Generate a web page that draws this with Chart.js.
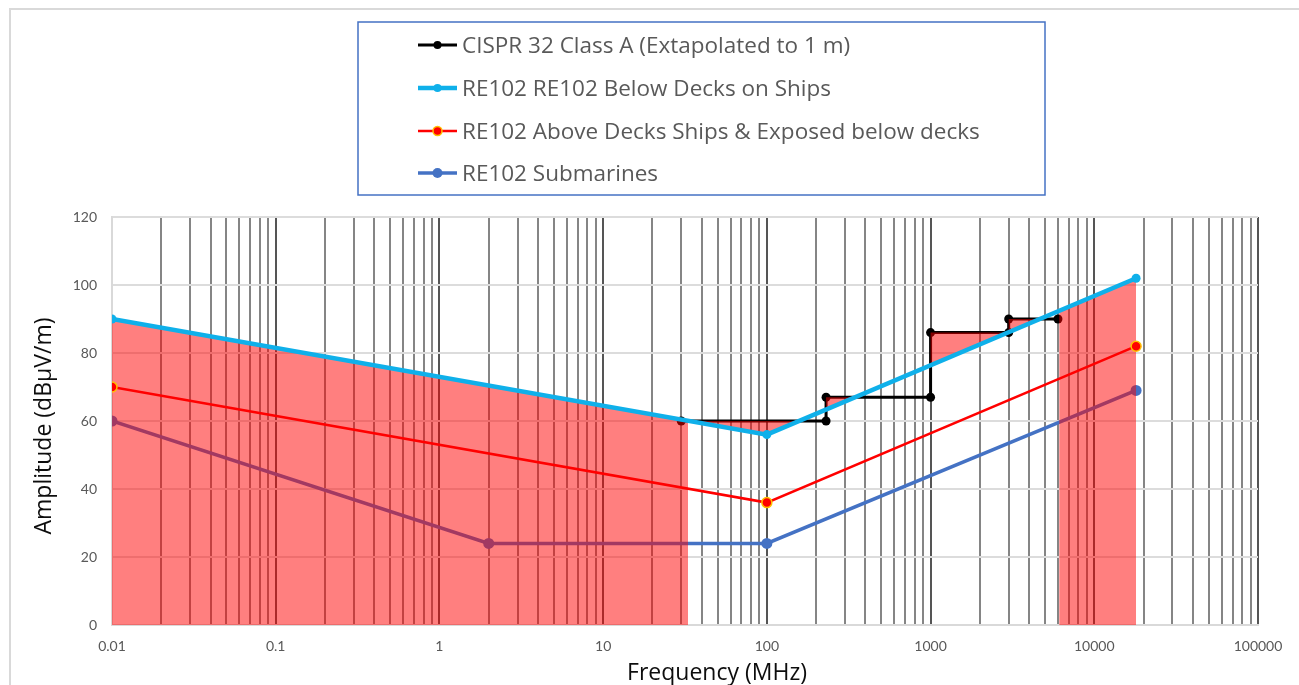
<!DOCTYPE html>
<html>
<head>
<meta charset="utf-8">
<title>Radiated emission limits</title>
<script src="https://cdn.jsdelivr.net/npm/chart.js@4.4.1/dist/chart.umd.min.js"></script>
<style>
  html, body { margin: 0; padding: 0; background: #ffffff; }
  #wrap { width: 1299px; height: 685px; position: relative; overflow: hidden; }
  canvas { display: block; }
</style>
</head>
<body>
<div id="wrap"><canvas id="chart" width="1299" height="685"></canvas></div>
<script>
// ---- data -------------------------------------------------------------
const cisprLabel = 'CISPR 32 Class A (Extapolated to 1 m)';
const cisprFreq  = [30, 230, 230, 1000, 1000, 3000, 3000, 6000];
const cisprLevel = [60, 60, 67, 67, 86, 86, 90, 90];

const belowDecksLabel = 'RE102 RE102 Below Decks on Ships';
const belowDecksFreq  = [0.01, 100, 18000];
const belowDecksLevel = [90, 56, 102];

const aboveDecksLabel = 'RE102 Above Decks Ships & Exposed below decks';
const aboveDecksFreq  = [0.01, 100, 18000];
const aboveDecksLevel = [70, 36, 82];

const submarineLabel = 'RE102 Submarines';
const submarineFreq  = [0.01, 2, 100, 18000];
const submarineLevel = [60, 24, 24, 69];

// frequency spans shaded under the below-decks limit
const shadedRanges = [[0.01, 33], [6100, 18000]];

const xDecades    = [0.01, 0.1, 1, 10, 100, 1000, 10000, 100000];
const xTickLabels = ['0.01', '0.1', '1', '10', '100', '1000', '10000', '100000'];
const yTickValues = [0, 20, 40, 60, 80, 100, 120];

const xTitle = 'Frequency (MHz)';
const yTitle = 'Amplitude (dB\u03BCV/m)';

// ---- helpers ----------------------------------------------------------
const TICK_FONT = 'Lato, "Open Sans", sans-serif';
const TEXT_FONT = '"Open Sans", Lato, sans-serif';
const SHADE = 'rgba(255, 0, 0, 0.5)';

function toPoints(freqs, levels) {
  return freqs.map((f, i) => ({ x: f, y: levels[i] }));
}

// level of a piecewise (log-frequency) linear limit at frequency f
function levelAt(freqs, levels, f) {
  for (let i = 0; i < freqs.length - 1; i++) {
    if (f >= freqs[i] && f <= freqs[i + 1]) {
      const t = (Math.log10(f) - Math.log10(freqs[i])) /
                (Math.log10(freqs[i + 1]) - Math.log10(freqs[i]));
      return levels[i] + t * (levels[i + 1] - levels[i]);
    }
  }
  return levels[levels.length - 1];
}

function bandPoints(range) {
  return range.map(f => ({ x: f, y: levelAt(belowDecksFreq, belowDecksLevel, f) }));
}

// ---- datasets ---------------------------------------------------------
const belowDecks = {
  label: belowDecksLabel,
  data: toPoints(belowDecksFreq, belowDecksLevel),
  borderColor: '#0fb0ea', backgroundColor: '#0fb0ea',
  borderWidth: 4.5, pointRadius: 4.5, pointBackgroundColor: '#0fb0ea',
  pointBorderColor: '#0fb0ea', pointBorderWidth: 0,
  fill: false, order: 0, tension: 0, legendRow: 1
};
const aboveDecks = {
  label: aboveDecksLabel,
  data: toPoints(aboveDecksFreq, aboveDecksLevel),
  borderColor: '#ff0000', backgroundColor: '#ff0000',
  borderWidth: 2.5, pointRadius: 5, pointBackgroundColor: '#ff0000',
  pointBorderColor: '#ffc000', pointBorderWidth: 1.5,
  fill: false, order: 1, tension: 0, legendRow: 2
};
const cisprShade = {
  label: '',
  data: toPoints(cisprFreq, cisprLevel),
  borderColor: 'rgba(0,0,0,0)', borderWidth: 0, pointRadius: 0,
  fill: { target: 0, above: SHADE, below: 'rgba(0,0,0,0)' },
  order: 2, tension: 0
};
const bands = shadedRanges.map(r => ({
  label: '',
  data: bandPoints(r),
  borderColor: 'rgba(0,0,0,0)', borderWidth: 0, pointRadius: 0,
  backgroundColor: SHADE, fill: 'origin', order: 2, tension: 0
}));
const cispr = {
  label: cisprLabel,
  data: toPoints(cisprFreq, cisprLevel),
  borderColor: '#000000', backgroundColor: '#000000',
  borderWidth: 3, pointRadius: 4.5, pointBackgroundColor: '#000000',
  pointBorderColor: '#000000', pointBorderWidth: 0,
  fill: false, order: 3, tension: 0, legendRow: 0
};
const submarine = {
  label: submarineLabel,
  data: toPoints(submarineFreq, submarineLevel),
  borderColor: '#4472c4', backgroundColor: '#4472c4',
  borderWidth: 3.5, pointRadius: 5.5, pointBackgroundColor: '#4472c4',
  pointBorderColor: '#4472c4', pointBorderWidth: 0,
  fill: false, order: 4, tension: 0, legendRow: 3
};

// ---- frame, legend box and axis titles ------------------------------
const decorations = {
  id: 'decorations',
  afterDraw(chart) {
    const ctx = chart.ctx;
    const area = chart.chartArea;
    ctx.save();

    // outer chart frame
    ctx.strokeStyle = '#d9d9d9';
    ctx.lineWidth = 2;
    ctx.strokeRect(10, 9, 1400, 1000);

    // legend box
    ctx.strokeStyle = '#4472c4';
    ctx.lineWidth = 1.5;
    ctx.strokeRect(358, 22, 687, 173);

    const rows = chart.data.datasets
      .filter(d => d.legendRow !== undefined)
      .sort((a, b) => a.legendRow - b.legendRow);
    const rowY = [45, 88, 131, 173];
    ctx.font = '22.5px ' + TEXT_FONT;
    ctx.textBaseline = 'middle';
    ctx.textAlign = 'left';
    rows.forEach((d, i) => {
      const y = rowY[i];
      ctx.strokeStyle = d.borderColor;
      ctx.lineWidth = d.borderWidth;
      ctx.beginPath();
      ctx.moveTo(418, y);
      ctx.lineTo(457, y);
      ctx.stroke();
      ctx.beginPath();
      ctx.arc(437.5, y, d.pointRadius - 0.5, 0, Math.PI * 2);
      ctx.fillStyle = d.pointBackgroundColor;
      ctx.fill();
      if (d.pointBorderWidth) {
        ctx.strokeStyle = d.pointBorderColor;
        ctx.lineWidth = d.pointBorderWidth;
        ctx.stroke();
      }
      ctx.fillStyle = '#595959';
      ctx.fillText(d.label, 462, y + 1.5);
    });

    // axis titles
    ctx.fillStyle = '#0d0d0d';
    ctx.font = '23px ' + TEXT_FONT;
    ctx.textAlign = 'center';
    ctx.textBaseline = 'middle';
    ctx.fillText(xTitle, 717, 673);
    ctx.translate(44, (area.top + area.bottom) / 2 + 5);
    ctx.rotate(-Math.PI / 2);
    ctx.fillText(yTitle, 0, 0);
    ctx.restore();
  }
};

// ---- chart ------------------------------------------------------------
new Chart(document.getElementById('chart'), {
  type: 'line',
  data: { datasets: [belowDecks, aboveDecks, cisprShade, ...bands, cispr, submarine] },
  options: {
    responsive: false,
    animation: false,
    devicePixelRatio: 1,
    layout: { padding: { left: 10, right: 41, top: 217, bottom: 0 } },
    plugins: {
      legend: { display: false },
      tooltip: { enabled: false },
      filler: { propagate: false }
    },
    scales: {
      x: {
        type: 'logarithmic',
        min: xDecades[0],
        max: xDecades[xDecades.length - 1],
        afterBuildTicks(scale) {
          const ticks = [];
          xDecades.forEach((d, i) => {
            if (i === xDecades.length - 1) { ticks.push({ value: d }); return; }
            for (let m = 1; m <= 9; m++) ticks.push({ value: +(d * m).toPrecision(6) });
          });
          scale.ticks = ticks;
        },
        afterFit(scale) { scale.height = 60; },
        ticks: {
          autoSkip: false, maxRotation: 0, minRotation: 0, padding: 13,
          color: '#595959', font: { family: TICK_FONT, size: 14 },
          callback(value) {
            const i = xDecades.indexOf(value);
            return i >= 0 ? xTickLabels[i] : '';
          }
        },
        grid: {
          drawTicks: false,
          color(ctx) {
            const v = ctx.tick ? ctx.tick.value : 0;
            if (v === xDecades[0]) return '#d9d9d9';
            return xDecades.includes(v) ? '#555555' : '#858585';
          },
          lineWidth: 2
        },
        border: { display: true, color: '#d9d9d9', width: 2 }
      },
      y: {
        type: 'linear',
        min: yTickValues[0],
        max: yTickValues[yTickValues.length - 1],
        afterBuildTicks(scale) { scale.ticks = yTickValues.map(v => ({ value: v })); },
        afterFit(scale) { scale.width = 102; },
        ticks: {
          padding: 15, color: '#595959', font: { family: TICK_FONT, size: 14 }
        },
        grid: { drawTicks: false, color: '#dcdcdc', lineWidth: 2 },
        border: { display: true, color: '#d9d9d9', width: 2 }
      }
    }
  },
  plugins: [decorations]
});
</script>
</body>
</html>
